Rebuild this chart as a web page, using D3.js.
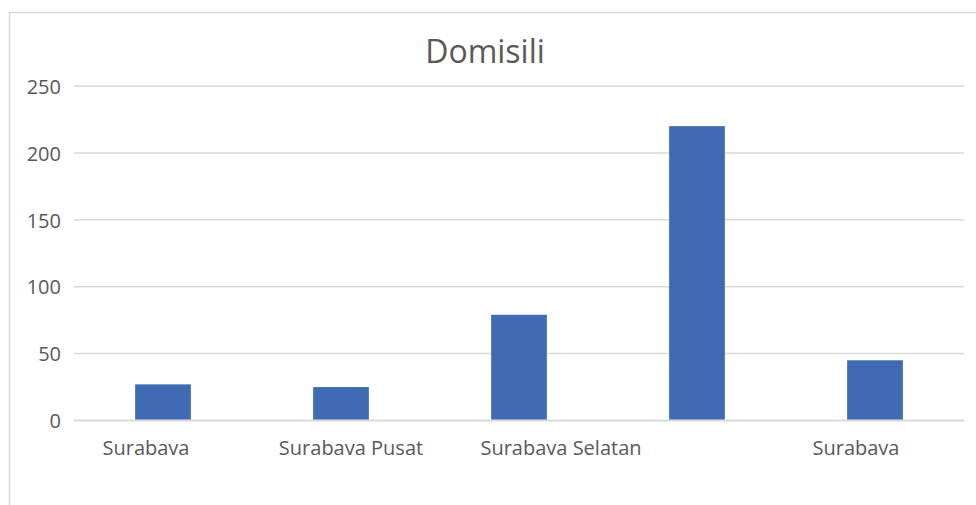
<!DOCTYPE html>
<html><head><meta charset="utf-8">
<script src="https://cdn.jsdelivr.net/npm/d3@7"></script>
<style>html,body{margin:0;padding:0;background:#fff;overflow:hidden}</style>
</head><body>
<svg id="c" width="976" height="505"></svg>
<script>
const categories = ["Surabaya Utara", "Surabaya Pusat", "Surabaya Selatan", "Surabaya Timur", "Surabaya Barat"];
const shownLabels = ["Surabaya", "Surabaya Pusat", "Surabaya Selatan", "", "Surabaya"];
const values = [27, 25, 79, 220, 45];
const yTicks = [0, 50, 100, 150, 200, 250];
const title = "Domisili";

const svg = d3.select("#c");
const font = "'Open Sans', 'Liberation Sans', sans-serif";
const grey = "#595959";

// outer frame
svg.append("rect").attr("x", 9.5).attr("y", 12.5).attr("width", 1000).attr("height", 600)
  .attr("fill", "#fff").attr("stroke", "#d9d9d9").attr("stroke-width", 1.5);

const x = d3.scaleBand().domain(categories).range([74, 964]).paddingInner(0.687).paddingOuter(0.3435);
const y = d3.scaleLinear().domain([0, 250]).range([420.5, 86]);

// gridlines
svg.append("g").selectAll("line").data(yTicks).join("line")
  .attr("x1", 74).attr("x2", 964)
  .attr("y1", d => y(d)).attr("y2", d => y(d))
  .attr("stroke", "#d9d9d9").attr("stroke-width", d => d === 0 ? 2 : 1.5);

// y axis labels
const yAxis = d3.axisLeft(y).tickValues(yTicks).tickSize(0).tickPadding(0);
const ga = svg.append("g").attr("transform", "translate(61,0)").call(yAxis);
ga.select(".domain").remove();
ga.selectAll("text").attr("font-family", font).attr("font-size", 20).attr("fill", grey).attr("dy", "0.36em");

// bars
svg.append("g").selectAll("rect").data(values).join("rect")
  .attr("x", (d, i) => x(categories[i]))
  .attr("width", x.bandwidth())
  .attr("y", d => y(d))
  .attr("height", d => y(0) - y(d) - 1)
  .attr("fill", "#3f6ab4");

// category labels, clipped at the bottom like the original
svg.append("clipPath").attr("id", "lblclip").append("rect")
  .attr("x", 0).attr("y", 425).attr("width", 976).attr("height", 30);
const labelShift = [-17, 10, 42, 0, -19];
svg.append("g").attr("clip-path", "url(#lblclip)").selectAll("text").data(shownLabels).join("text")
  .attr("x", (d, i) => x(categories[i]) + x.bandwidth() / 2 + labelShift[i])
  .attr("y", 455)
  .attr("text-anchor", "middle")
  .attr("font-family", font).attr("font-size", 20).attr("fill", grey)
  .text(d => d);

// title
svg.append("text").attr("x", 485).attr("y", 63).attr("text-anchor", "middle")
  .attr("font-family", font).attr("font-size", 32).attr("fill", grey).text(title);
</script>
</body></html>
